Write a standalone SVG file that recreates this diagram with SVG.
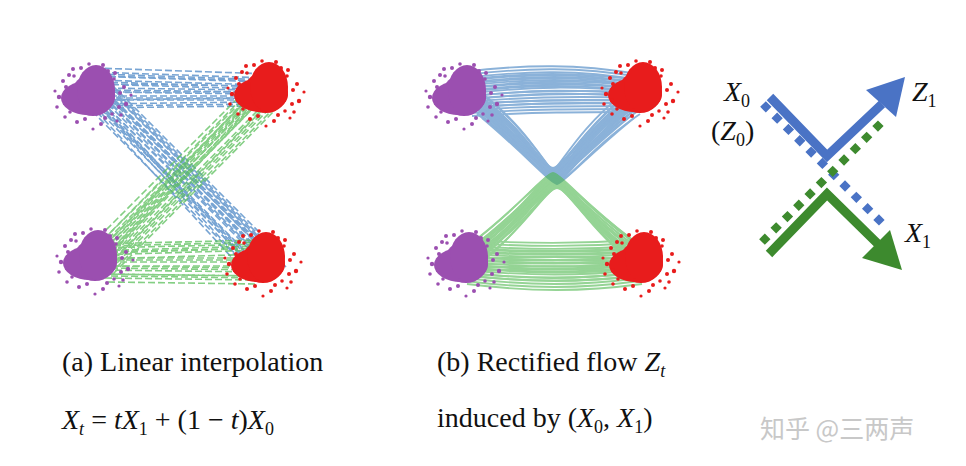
<svg xmlns="http://www.w3.org/2000/svg" xmlns:xlink="http://www.w3.org/1999/xlink" width="966" height="466" viewBox="0 0 966 466">
<style>
.t{font-family:"Liberation Serif","DejaVu Serif",serif;font-size:28px;fill:#111}
.m{font-style:italic}
.bd{stroke:#4a86c5;stroke-width:1.6;fill:none;stroke-dasharray:7 3;opacity:.75}
.gd{stroke:#5cbf5c;stroke-width:1.6;fill:none;stroke-dasharray:7 3;opacity:.75}
.bc{stroke:#3f7fc0;stroke-width:1.8;fill:none;opacity:.6}
.gc{stroke:#4fb84f;stroke-width:1.8;fill:none;opacity:.6}
</style>
<defs>
<g id="cl">
<ellipse cx="0" cy="0" rx="22" ry="21"/>
<ellipse cx="-5" cy="3" rx="27" ry="17"/>
<ellipse cx="3" cy="-5" rx="19" ry="25"/>
<circle cx="-34" cy="2" r="2.2"/><circle cx="-30" cy="-14" r="2"/><circle cx="-36" cy="12" r="1.8"/>
<circle cx="31" cy="-8" r="2"/><circle cx="33" cy="9" r="2.2"/><circle cx="28" cy="20" r="1.8"/>
<circle cx="-20" cy="-26" r="2"/><circle cx="10" cy="-30" r="2"/><circle cx="-4" cy="-31" r="1.8"/>
<circle cx="-16" cy="27" r="2"/><circle cx="8" cy="29" r="2"/><circle cx="22" cy="-22" r="2"/>
<circle cx="-28" cy="22" r="1.8"/><circle cx="24" cy="26" r="1.6"/><circle cx="-38" cy="-4" r="1.6"/>
<circle cx="38" cy="0" r="1.6"/><circle cx="-24" cy="-20" r="2"/><circle cx="0" cy="34" r="1.6"/>
<circle cx="-28" cy="8" r="2"/><circle cx="-27" cy="-8" r="2"/><circle cx="27" cy="-2" r="2"/><circle cx="26" cy="12" r="2"/>
<circle cx="-12" cy="-27" r="2"/><circle cx="15" cy="-24" r="2"/><circle cx="-8" cy="24" r="2"/><circle cx="12" cy="23" r="2"/>
<circle cx="-23" cy="17" r="1.8"/><circle cx="21" cy="-16" r="1.8"/><circle cx="19" cy="19" r="1.8"/><circle cx="-19" cy="-19" r="1.8"/>
</g>
<g id="ab">
<path d="M95 80 L265 85"/><path d="M98 88 L262 90"/><path d="M92 72 L268 78"/><path d="M100 96 L258 96"/><path d="M90 104 L255 102"/>
<path d="M95 95 L262 262"/><path d="M105 98 L268 258"/><path d="M88 100 L255 268"/><path d="M110 90 L275 255"/><path d="M100 108 L250 270"/><path d="M115 100 L280 265"/>
</g>
<g id="ag">
<path d="M95 262 L262 92"/><path d="M88 255 L255 88"/><path d="M105 265 L270 98"/><path d="M100 250 L265 82"/><path d="M110 270 L278 100"/><path d="M92 270 L252 100"/>
<path d="M95 255 L262 250"/><path d="M100 262 L258 262"/><path d="M95 270 L262 272"/><path d="M105 278 L255 280"/><path d="M98 248 L265 244"/>
</g>
<g id="bb">
<path d="M465 78 C530 70 580 70 640 80"/><path d="M465 86 C530 78 580 78 640 86"/><path d="M468 94 C530 86 580 86 640 92"/><path d="M470 102 C530 96 580 96 638 98"/><path d="M470 110 C530 106 580 106 638 106"/>
<path d="M470 100 C520 130 545 175 555 176 C565 175 590 130 640 100"/>
<path d="M475 108 C520 140 545 176 555 177 C565 176 590 140 638 108"/>
<path d="M465 92 C515 120 545 174 555 175 C565 174 595 120 642 92"/>
<path d="M480 112 C525 150 548 177 555 178 C562 177 585 150 632 112"/>
<path d="M460 86 C510 115 543 173 555 174 C567 173 600 115 648 88"/>
<path d="M485 100 C530 135 550 176 555 176 C560 176 580 135 625 100"/>
</g>
<g id="bg">
<path d="M465 278 C530 286 580 286 640 278"/><path d="M465 270 C530 276 580 276 640 270"/><path d="M468 262 C530 268 580 268 640 262"/><path d="M470 254 C530 258 580 258 638 254"/><path d="M470 246 C530 250 580 250 638 246"/><path d="M438 268 C500 262 590 262 640 266"/>
<path d="M470 256 C520 225 545 180 555 179 C565 180 590 225 640 256"/>
<path d="M475 248 C520 215 545 180 555 180 C565 180 590 215 638 248"/>
<path d="M465 264 C515 235 545 181 555 181 C565 181 595 235 642 264"/>
<path d="M480 244 C525 208 548 180 555 180 C562 180 585 208 632 244"/>
<path d="M460 270 C510 240 543 182 555 182 C567 182 600 240 648 268"/>
</g>
</defs>
<rect width="966" height="466" fill="#fff"/>
<g id="connectors">
<g id="a-blue" class="bd">
<use xlink:href="#ab"/><use xlink:href="#ab" x="3" y="-4"/><use xlink:href="#ab" x="-3" y="4"/><use xlink:href="#ab" x="6" y="2"/>
</g>
<g id="a-green" class="gd">
<use xlink:href="#ag"/><use xlink:href="#ag" x="3" y="4"/><use xlink:href="#ag" x="-3" y="-4"/><use xlink:href="#ag" x="6" y="-2"/>
</g>
<g id="b-blue" class="bc">
<use xlink:href="#bb"/><use xlink:href="#bb" y="-3"/><use xlink:href="#bb" y="3"/><use xlink:href="#bb" x="2" y="6"/><use xlink:href="#bb" x="-2" y="-6"/>
</g>
<g id="b-green" class="gc">
<use xlink:href="#bg"/><use xlink:href="#bg" y="-3"/><use xlink:href="#bg" y="3"/><use xlink:href="#bg" x="2" y="6"/><use xlink:href="#bg" x="-2" y="-6"/>
</g>
<g id="c-arrows">
<line x1="763" y1="104" x2="884" y2="225" stroke="#4a73c5" stroke-width="8" stroke-dasharray="8 8"/>
<line x1="762" y1="242" x2="884" y2="120" stroke="#3d8a2e" stroke-width="8" stroke-dasharray="8 8"/>
<polyline points="770,97 827,156 882,104" fill="none" stroke="#4a73c5" stroke-width="9"/>
<polygon points="905,77 896,117 866,90" fill="#4a73c5"/>
<polyline points="769,254 827,194 878,244" fill="none" stroke="#3d8a2e" stroke-width="9"/>
<polygon points="902,270 862,258 890,230" fill="#3d8a2e"/>
</g>
</g>
<g id="clusters">
<use xlink:href="#cl" x="93" y="95" fill="#9b4fb0"/>
<use xlink:href="#cl" x="266" y="92" fill="#e81c1c"/>
<use xlink:href="#cl" x="95" y="260" fill="#9b4fb0"/>
<use xlink:href="#cl" x="263" y="262" fill="#e81c1c"/>
<use xlink:href="#cl" x="464" y="95" fill="#9b4fb0"/>
<use xlink:href="#cl" x="640" y="92" fill="#e81c1c"/>
<use xlink:href="#cl" x="466" y="262" fill="#9b4fb0"/>
<use xlink:href="#cl" x="641" y="262" fill="#e81c1c"/>
</g>
<g id="labels">
<text class="t" x="724" y="101"><tspan class="m">X</tspan><tspan font-size="18" dy="6">0</tspan></text>
<text class="t" x="711" y="140">(<tspan class="m">Z</tspan><tspan font-size="18" dy="6">0</tspan><tspan dy="-6">)</tspan></text>
<text class="t" x="912" y="101"><tspan class="m">Z</tspan><tspan font-size="18" dy="6">1</tspan></text>
<text class="t" x="905" y="242"><tspan class="m">X</tspan><tspan font-size="18" dy="6">1</tspan></text>
<text class="t" x="62" y="371">(a) Linear interpolation</text>
<text class="t" x="62" y="429"><tspan class="m">X</tspan><tspan font-size="18" dy="6" class="m">t</tspan><tspan dy="-6"> = </tspan><tspan class="m">tX</tspan><tspan font-size="18" dy="6">1</tspan><tspan dy="-6"> + (1 − </tspan><tspan class="m">t</tspan>)<tspan class="m">X</tspan><tspan font-size="18" dy="6">0</tspan></text>
<text class="t" x="437" y="371">(b) Rectified flow <tspan class="m">Z</tspan><tspan font-size="18" dy="6" class="m">t</tspan></text>
<text class="t" x="437" y="427">induced by (<tspan class="m">X</tspan><tspan font-size="18" dy="6">0</tspan><tspan dy="-6">, </tspan><tspan class="m">X</tspan><tspan font-size="18" dy="6">1</tspan><tspan dy="-6">)</tspan></text>
<text x="760" y="438" font-family="'Noto Sans CJK SC',sans-serif" font-size="25" fill="#c8c8c8">知乎 @三两声</text>
</g>
</svg>
